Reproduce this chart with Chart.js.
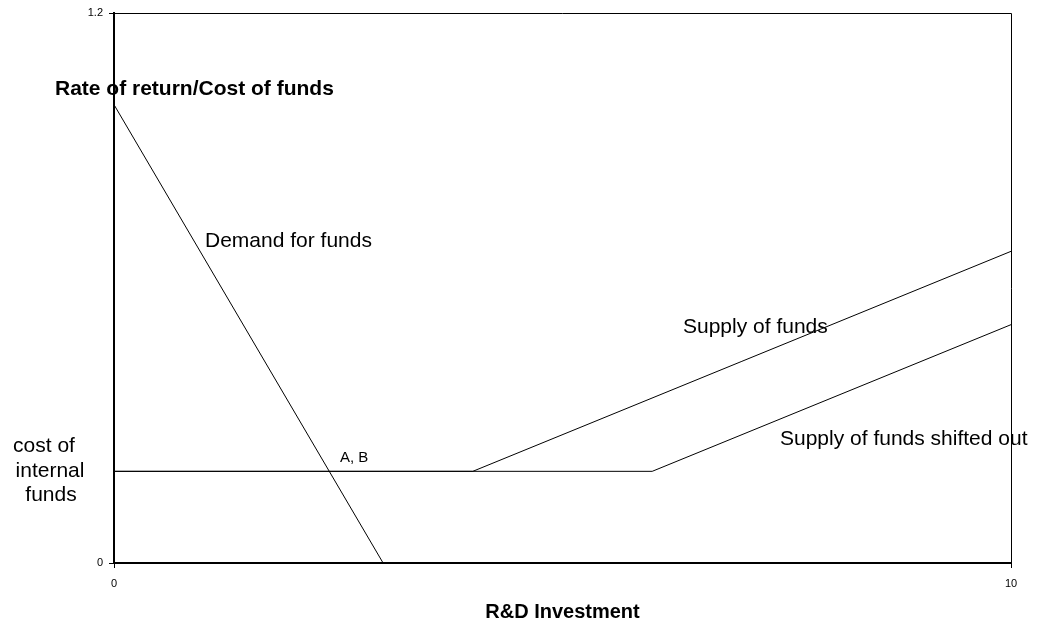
<!DOCTYPE html>
<html>
<head>
<meta charset="utf-8">
<script src="https://cdn.jsdelivr.net/npm/chart.js@4/dist/chart.umd.min.js"></script>
<style>
  html, body { margin: 0; padding: 0; background: #fff; }
  #wrap { width: 1037px; height: 627px; }
</style>
</head>
<body>
<div id="wrap"><canvas id="c" width="1037" height="627"></canvas></div>
<script>
// ---- data ----
const demandX = [0, 3, 10];
const demandY = [1.0, 0, 0];
const supplyX = [0, 4, 10];
const supplyY = [0.2, 0.2, 0.68];
const shiftedX = [0, 6, 10];
const shiftedY = [0.2, 0.2, 0.52];
const xTickValues = [0, 10];
const yTickValues = [0, 1.2];
const xTitle = 'R&D Investment';
const yTitle = 'Rate of return/Cost of funds';

const FONT = '"Liberation Sans", Arial, sans-serif';
const toPts = (xs, ys) => xs.map((x, i) => ({ x: x, y: ys[i] }));

const lineStyle = { showLine: true, pointRadius: 0, borderColor: '#000', borderWidth: 1, tension: 0, fill: false };

const annotations = {
  id: 'annotations',
  afterDraw(chart) {
    const ctx = chart.ctx;
    const a = chart.chartArea;
    ctx.save();
    // frame (top and right)
    ctx.strokeStyle = '#000';
    ctx.lineWidth = 1;
    ctx.beginPath();
    ctx.moveTo(a.left, a.top + 0.5);
    ctx.lineTo(a.right + 0.5, a.top + 0.5);
    ctx.lineTo(a.right + 0.5, a.bottom);
    ctx.stroke();

    ctx.fillStyle = '#000';
    ctx.textBaseline = 'alphabetic';
    ctx.textAlign = 'left';
    ctx.font = 'bold 21px ' + FONT;
    ctx.fillText(yTitle, 55, 95);
    ctx.font = '21px ' + FONT;
    ctx.fillText('Demand for funds', 205, 247);
    ctx.fillText('Supply of funds', 683, 333);
    ctx.fillText('Supply of funds shifted out', 780, 445);
    ctx.textAlign = 'center';
    ctx.fillText('cost of', 44, 452);
    ctx.fillText('internal', 50, 477);
    ctx.fillText('funds', 51, 501);
    ctx.textAlign = 'left';
    ctx.font = '15px ' + FONT;
    ctx.fillText('A, B', 340, 462);
    ctx.textAlign = 'center';
    ctx.font = 'bold 20px ' + FONT;
    ctx.fillText(xTitle, (a.left + a.right) / 2, 618);
    ctx.restore();
  }
};

new Chart(document.getElementById('c'), {
  type: 'scatter',
  data: {
    datasets: [
      Object.assign({ label: 'Demand for funds', data: toPts(demandX, demandY) }, lineStyle),
      Object.assign({ label: 'Supply of funds', data: toPts(supplyX, supplyY) }, lineStyle),
      Object.assign({ label: 'Supply of funds shifted out', data: toPts(shiftedX, shiftedY) }, lineStyle)
    ]
  },
  options: {
    responsive: false,
    animation: false,
    layout: { padding: { top: 13, right: 26, bottom: 0, left: 0 } },
    plugins: { legend: { display: false }, tooltip: { enabled: false } },
    scales: {
      x: {
        type: 'linear', min: 0, max: 10,
        afterBuildTicks: s => { s.ticks = xTickValues.map(v => ({ value: v })); },
        afterFit: s => { s.height = 64; },
        grid: { drawOnChartArea: false, tickLength: 5, color: '#000' },
        border: { color: '#000', width: 2 },
        ticks: { color: '#000', font: { size: 11, family: FONT }, padding: 9, maxRotation: 0, autoSkip: false,
                 callback: v => String(v) }
      },
      y: {
        type: 'linear', min: 0, max: 1.2,
        afterBuildTicks: s => { s.ticks = yTickValues.map(v => ({ value: v })); },
        afterFit: s => { s.width = 114; },
        grid: { drawOnChartArea: false, tickLength: 5, color: '#000' },
        border: { color: '#000', width: 2 },
        ticks: { color: '#000', font: { size: 11, family: FONT }, padding: 6, autoSkip: false,
                 callback: v => String(v) }
      }
    }
  },
  plugins: [annotations]
});
</script>
</body>
</html>
